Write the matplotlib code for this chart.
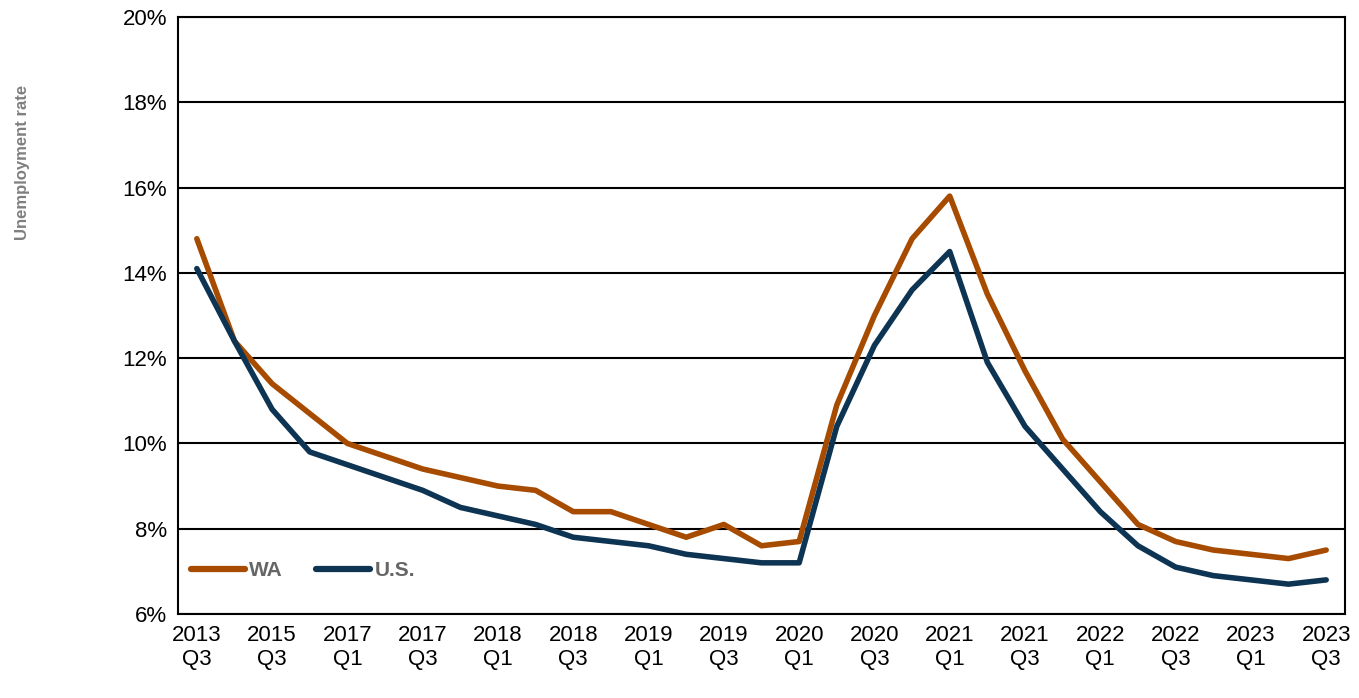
import matplotlib
matplotlib.use("Agg")
import matplotlib.pyplot as plt
from matplotlib.ticker import FuncFormatter

# quarterly series, 31 points; only every other one gets a label
tick_labels = ["2013\nQ3", "2015\nQ3", "2017\nQ1", "2017\nQ3", "2018\nQ1", "2018\nQ3",
               "2019\nQ1", "2019\nQ3", "2020\nQ1", "2020\nQ3", "2021\nQ1", "2021\nQ3",
               "2022\nQ1", "2022\nQ3", "2023\nQ1", "2023\nQ3"]

wa = [14.8, 12.4, 11.4, 10.7, 10.0, 9.7, 9.4, 9.2, 9.0, 8.9, 8.4, 8.4, 8.1, 7.8, 8.1, 7.6,
      7.7, 10.9, 13.0, 14.8, 15.8, 13.5, 11.7, 10.1, 9.1, 8.1, 7.7, 7.5, 7.4, 7.3, 7.5]
us = [14.1, 12.4, 10.8, 9.8, 9.5, 9.2, 8.9, 8.5, 8.3, 8.1, 7.8, 7.7, 7.6, 7.4, 7.3, 7.2,
      7.2, 10.4, 12.3, 13.6, 14.5, 11.9, 10.4, 9.4, 8.4, 7.6, 7.1, 6.9, 6.8, 6.7, 6.8]

plt.rcParams['font.family'] = ['Liberation Sans', 'DejaVu Sans']

fig = plt.figure(figsize=(13.59, 6.98), dpi=100)
ax = fig.add_axes([178 / 1359, 1 - 614 / 698, (1345 - 178) / 1359, (614 - 17) / 698])

x = list(range(len(wa)))
ax.plot(x, wa, color="#A64B00", lw=4, solid_capstyle="round", label="WA", zorder=3)
ax.plot(x, us, color="#0E3453", lw=4, solid_capstyle="round", label="U.S.", zorder=3)

ax.set_xlim(-0.5, len(wa) - 0.5)
ax.set_ylim(6, 20)
ax.set_yticks(range(6, 21, 2))
ax.yaxis.set_major_formatter(FuncFormatter(lambda v, p: f"{v:.0f}%"))
ax.set_xticks(range(0, len(wa), 2))
ax.set_xticklabels(tick_labels)
ax.tick_params(axis="both", length=0, labelsize=16, pad=8)
ax.grid(axis="y", color="black", lw=1.5)
for s in ax.spines.values():
    s.set_color("black")
    s.set_linewidth(1.5)

fig.text(22 / 1359, 1 - 162 / 698, "Unemployment rate", rotation=90, ha="center", va="center",
         fontsize=12, fontweight="bold", color="#7F7F7F")

leg = ax.legend(loc="lower left", ncol=2, frameon=False, fontsize=15, handlelength=2.6,
                handletextpad=0.2, columnspacing=1.6, bbox_to_anchor=(-0.005, 0.025))
for t in leg.get_texts():
    t.set_fontweight("bold")
    t.set_color("#666666")
for h in leg.get_lines():
    h.set_linewidth(4.5)

fig.savefig("out.png", dpi=100)
